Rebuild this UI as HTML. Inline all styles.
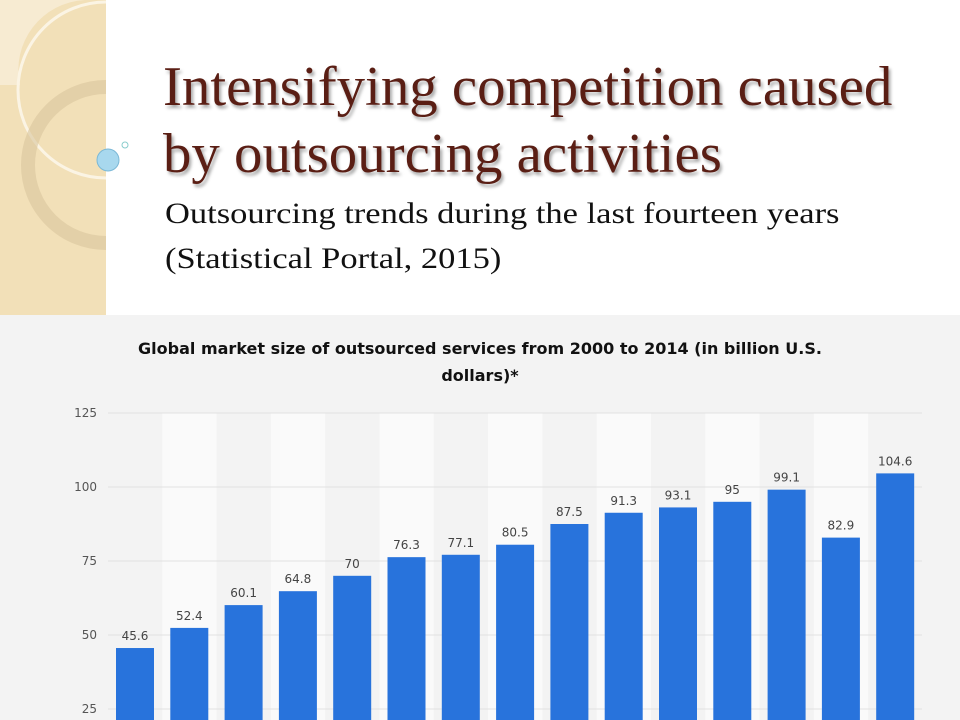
<!DOCTYPE html>
<html><head><style>
html,body{margin:0;width:960px;height:720px;overflow:hidden}
body{background:#fff;position:relative;font-family:"Liberation Serif",serif}
.strip{position:absolute;left:0;top:0;width:106px;height:315px;background:#f2e0b8}
.t{position:absolute;left:163px;color:#5a1e14;font-size:56px;text-shadow:2px 3px 3px rgba(0,0,0,.35);white-space:nowrap;line-height:1;transform-origin:0 0;transform:scaleX(1.015)}
.s{position:absolute;left:165px;color:#111;font-size:30px;white-space:nowrap;line-height:1;transform-origin:0 0;transform:scaleX(1.15)}
</style></head><body>
<div class="strip"></div>
<svg style="position:absolute;left:0;top:0" width="140" height="315">
<path d="M0 0 H85 A70 70 0 0 0 20 85 H0Z" fill="#f7ebd2"/>
<circle cx="106" cy="90" r="88" fill="none" stroke="#fbf4e4" stroke-width="3"/>
<circle cx="106" cy="165" r="78" fill="none" stroke="#d9c49c" stroke-width="14" opacity=".6"/>
<rect x="106" y="0" width="34" height="315" fill="#fff"/>
<circle cx="108" cy="160" r="11" fill="#a8d8ee" stroke="#7bb8d6"/>
<circle cx="125" cy="145" r="3" fill="#fff" stroke="#8cc"/>
</svg>
<div class="t" style="top:59px">Intensifying competition caused</div>
<div class="t" style="top:126px">by outsourcing activities</div>
<div class="s" style="top:199px">Outsourcing trends during the last fourteen years</div>
<div class="s" style="top:244px">(Statistical Portal, 2015)</div>
<svg style="position:absolute;left:0;top:315px" width="960" height="405" font-family="Liberation Sans, sans-serif">
<rect width="960" height="405" fill="#f3f3f3"/>
<text x="480" y="39" text-anchor="middle" font-size="16" font-weight="bold" fill="#111" font-family="DejaVu Sans, sans-serif">Global market size of outsourced services from 2000 to 2014 (in billion U.S.</text>
<text x="480" y="66" text-anchor="middle" font-size="16" font-weight="bold" fill="#111" font-family="DejaVu Sans, sans-serif">dollars)*</text>
<g id="g"></g>
<text transform="translate(58 597) rotate(-90)" font-size="11" fill="#777" text-anchor="middle" font-family="DejaVu Sans, sans-serif">Revenue in billion U.S. dollars</text>
</svg>
<script>
var g=document.getElementById('g'),h='';
var v=[45.6,52.4,60.1,64.8,70,76.3,77.1,80.5,87.5,91.3,93.1,95,99.1,82.9,104.6];
var x0=108,w=54.3;
for(var i=0;i<15;i++)if(i%2==1)h+='<rect x="'+(x0+i*w)+'" y="98" width="'+w+'" height="307" fill="#fafafa"/>';
[125,100,75,50,25].forEach(function(t){var y=468-t*2.96;h+='<line x1="108" x2="922" y1="'+y+'" y2="'+y+'" stroke="#e2e2e2"/><text x="97" y="'+(y+4)+'" text-anchor="end" font-size="12" fill="#555" font-family="DejaVu Sans, sans-serif">'+t+'</text>';});
v.forEach(function(d,i){var y=468-d*2.96,x=x0+i*w+8;h+='<rect x="'+x+'" y="'+y+'" width="38" height="'+(405-y)+'" fill="#2873dc"/><text x="'+(x+19)+'" y="'+(y-8)+'" text-anchor="middle" font-size="12" fill="#444" font-family="DejaVu Sans, sans-serif">'+d+'</text>';});
g.innerHTML=h;
</script>
</body></html>
